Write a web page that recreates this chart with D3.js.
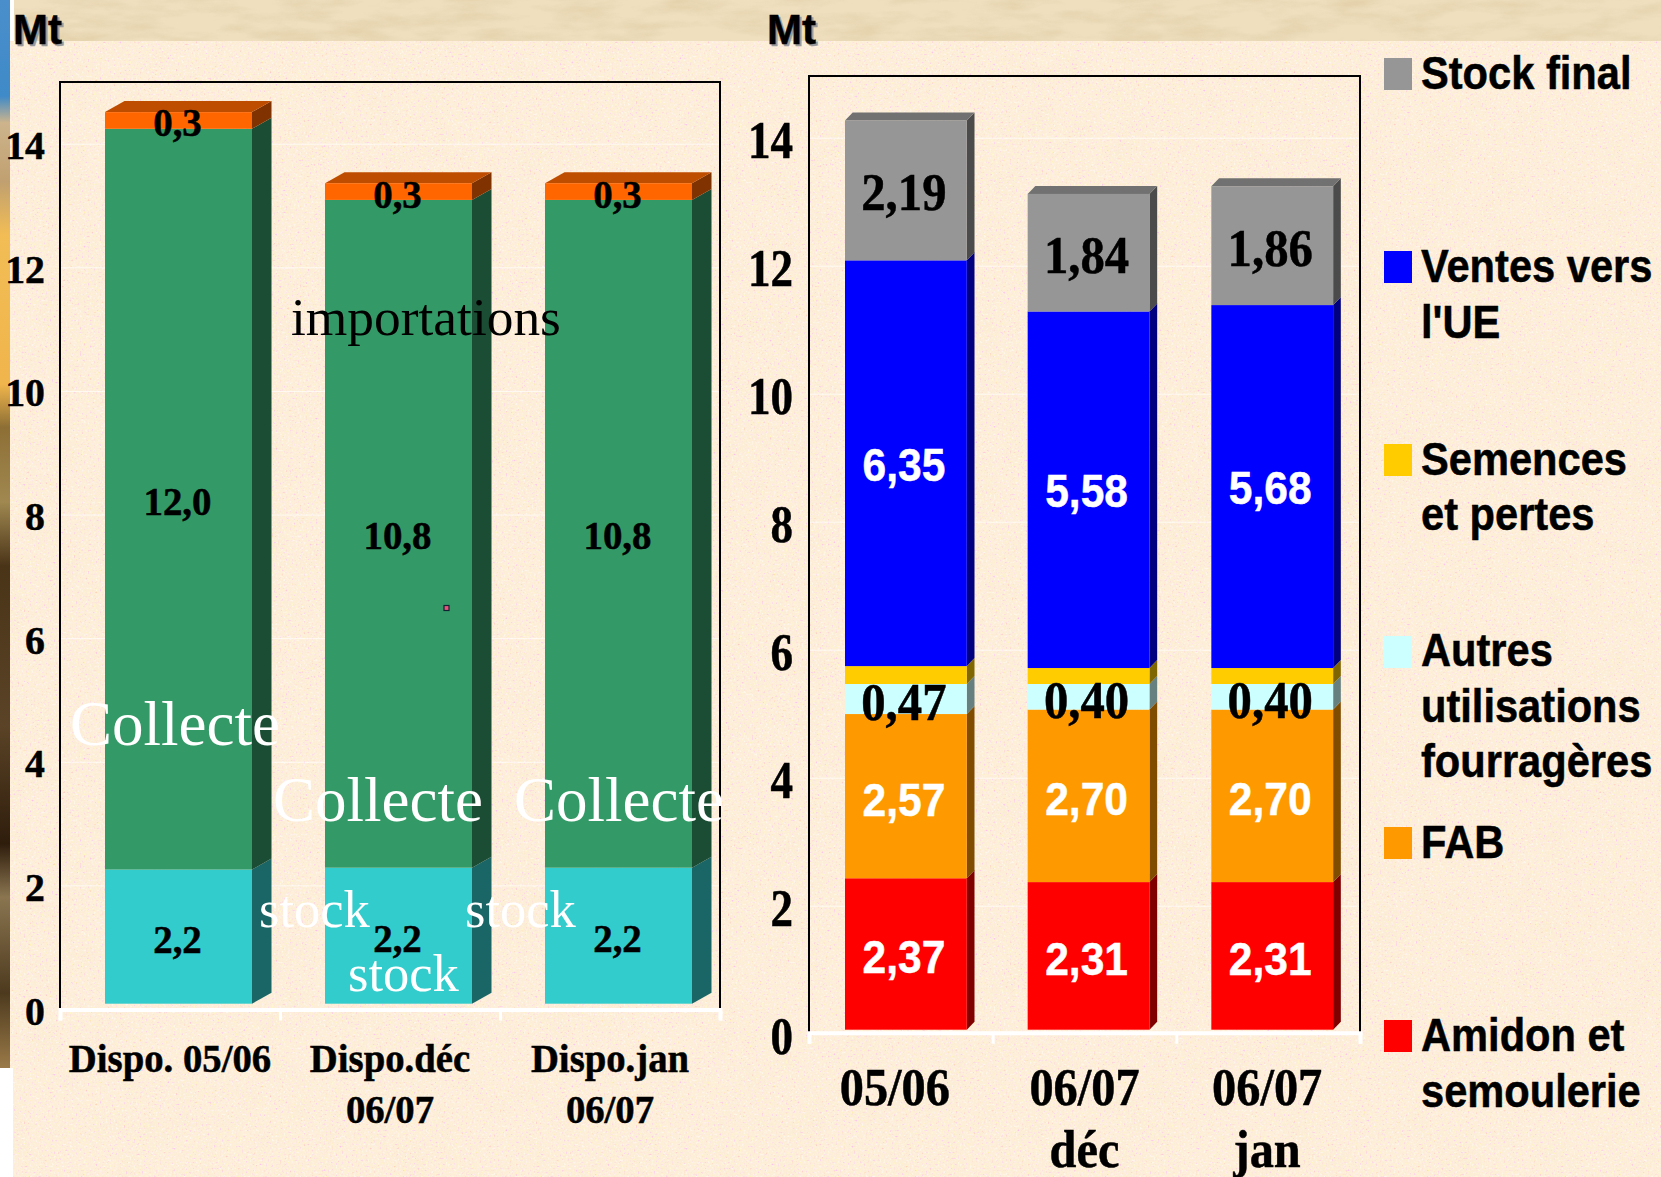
<!DOCTYPE html>
<html><head><meta charset="utf-8">
<script src="https://cdnjs.cloudflare.com/ajax/libs/d3/7.8.5/d3.min.js"></script>
<style>html,body{margin:0;padding:0;background:#fff;overflow:hidden}svg{display:block}</style>
</head><body><div id="chart"></div>
<script>
// ---- data ----
const leftCategories = [["Dispo. 05/06"],["Dispo.déc","06/07"],["Dispo.jan","06/07"]];
const leftKeys = ["stock","collecte","importations"];
const leftStock = [2.17,2.2,2.2];
const leftCollecte = [11.98,10.8,10.8];
const leftImport = [0.27,0.27,0.27];
const rightCategories = [["05/06"],["06/07","déc"],["06/07","jan"]];
const rightKeys = ["Amidon","FAB","Autres","Semences","Ventes","Stock"];
const amidon = [2.37,2.31,2.31];
const fab = [2.57,2.70,2.70];
const autres = [0.47,0.40,0.40];
const semences = [0.28,0.25,0.25];
const ventes = [6.35,5.58,5.68];
const stockFinal = [2.19,1.84,1.86];
const yTicks = [0,2,4,6,8,10,12,14];
const leftColors = ["#33cccc","#339966","#ff6600"];
const rightColors = ["#ff0000","#ff9900","#ccffff","#ffcc00","#0000ff","#969696"];
const legendLines = [
 ["Stock final"],["Ventes vers","l'UE"],["Semences","et pertes"],
 ["Autres","utilisations","fourragères"],["FAB"],["Amidon et","semoulerie"]];
const legendColors = ["#969696","#0000ff","#ffcc00","#ccffff","#ff9900","#ff0000"];

const W=1661,H=1177;
const SERIF="'Liberation Serif','Times New Roman',serif", SANS="'Liberation Sans',Arial,sans-serif";
const svg=d3.select("#chart").append("svg").attr("width",W).attr("height",H).attr("viewBox",`0 0 ${W} ${H}`);
const defs=svg.append("defs");

// ---- background texture ----
const fine=defs.append("filter").attr("id","speck").attr("x",0).attr("y",0).attr("width","100%").attr("height","100%");
fine.append("feTurbulence").attr("type","fractalNoise").attr("baseFrequency",0.5).attr("numOctaves",2).attr("seed",4);
fine.append("feColorMatrix").attr("type","matrix").attr("values","2 0 0 0 0  0 2 0 0 -0.1  0 0 2 0 -0.1  3.2 0 0 0 -1.38");
const cloud=defs.append("filter").attr("id","cloud").attr("x",0).attr("y",0).attr("width","100%").attr("height","100%");
cloud.append("feTurbulence").attr("type","fractalNoise").attr("baseFrequency",0.035).attr("numOctaves",4).attr("seed",21);
cloud.append("feColorMatrix").attr("type","matrix").attr("values","0 0 0 0 0.93  0 0 0 0 0.82  0 0 0 0 0.6  2.4 0 0 0 -1.05");
const coarse=defs.append("filter").attr("id","marble").attr("x",0).attr("y",0).attr("width","100%").attr("height","100%");
coarse.append("feTurbulence").attr("type","fractalNoise").attr("baseFrequency","0.018 0.07").attr("numOctaves",5).attr("seed",9);
coarse.append("feColorMatrix").attr("type","matrix").attr("values","0 0 0 0 0.72  0 0 0 0 0.58  0 0 0 0 0.34  2.2 0 0 0 -0.85");
const strip=defs.append("linearGradient").attr("id","strip").attr("x1",0).attr("y1",0).attr("x2",0).attr("y2",1);
[[0,"#4a8fcc"],[0.09,"#3f8ac8"],[0.115,"#cdb48c"],[0.17,"#c0a070"],[0.22,"#f2bd55"],[0.36,"#f0b54c"],[0.4,"#8d6f35"],[0.47,"#a08850"],[0.53,"#4a3418"],[0.68,"#5a4326"],[0.79,"#2f1d0c"],[0.84,"#8a7550"],[0.93,"#4d3a1e"],[1,"#9a7a48"]]
 .forEach(s=>strip.append("stop").attr("offset",s[0]).attr("stop-color",s[1]));

const bg=svg.append("g");
bg.append("rect").attr("width",W).attr("height",H).attr("fill","#fdeed8");
bg.append("rect").attr("width",W).attr("height",H).attr("filter","url(#cloud)").attr("opacity",0.25);
bg.append("rect").attr("width",W).attr("height",H).attr("filter","url(#speck)").attr("opacity",0.5);
bg.append("rect").attr("width",W).attr("height",41).attr("fill","#efdfbf");
bg.append("rect").attr("width",W).attr("height",41).attr("filter","url(#marble)").attr("opacity",0.55);
bg.append("rect").attr("x",0).attr("y",1068).attr("width",13).attr("height",H-1068).attr("fill","#fff");
bg.append("rect").attr("x",0).attr("y",0).attr("width",14).attr("height",41).attr("fill","#fff");
bg.append("rect").attr("x",0).attr("y",0).attr("width",10).attr("height",1068).attr("fill","url(#strip)");

function label(g,x,y,str,o){
  return g.append("text").attr("transform",`translate(${x},${y}) scale(${o.sx||1},1)`)
   .attr("text-anchor",o.anchor||"middle").attr("font-family",o.family).attr("font-weight",o.weight||"bold")
   .attr("font-size",o.size).attr("fill",o.fill||"#000")
   .attr("stroke",o.weight==="normal"?"none":(o.fill||"#000")).attr("stroke-width",0.5).text(str);
}
const shade=(c,k)=>{const r=d3.rgb(c);return d3.rgb(r.r*k,r.g*k,r.b*k).formatHex();};

function panel(p){
  const g=svg.append("g");
  const step=(p.right-p.left)/3;
  const xBand=d3.scaleBand().domain(d3.range(3)).range([p.left,p.right]);
  const yWall=d3.scaleLinear().domain([0,14]).range(p.wall);
  const yFront=d3.scaleLinear().domain([0,14]).range(p.front);

  // gridlines + tick labels through d3 axis
  const ax=g.append("g").attr("transform",`translate(${p.left},0)`)
    .call(d3.axisLeft(yWall).tickValues(yTicks).tickSize(-(p.right-p.left)).tickFormat(d3.format("d")));
  ax.select(".domain").remove();
  ax.selectAll(".tick line").attr("stroke","#fff").attr("stroke-width",1).attr("stroke-opacity",d=>d===0?0:0.7);
  ax.selectAll(".tick text").attr("x",null).attr("dy",null).attr("y",null)
    .attr("text-anchor","end").attr("font-family",SERIF).attr("font-weight","bold")
    .attr("font-size",p.tick.size).attr("fill","#000").attr("stroke","#000").attr("stroke-width",0.5)
    .attr("transform",`translate(${-p.tick.pad},${p.tick.dy}) scale(${p.tick.sx},1)`);

  // frame
  const frame=d3.path();
  frame.moveTo(p.left,p.axisY);frame.lineTo(p.left,p.top);frame.lineTo(p.right,p.top);frame.lineTo(p.right,p.axisY);
  g.append("path").attr("d",frame.toString()).attr("fill","none").attr("stroke","#000").attr("stroke-width",2);
  // x axis (white)
  const x0=g.append("g").attr("transform",`translate(0,${p.axisY})`)
    .call(d3.axisBottom(d3.scaleLinear().domain([0,3]).range([p.left,p.right])).tickValues([0,1,2,3]).tickSize(11).tickFormat(""));
  x0.select(".domain").attr("stroke","#fff").attr("stroke-width",4);
  x0.selectAll(".tick line").attr("stroke","#fff").attr("stroke-width",3);

  // bars
  const rows=d3.range(3).map(i=>{const o={};p.keys.forEach((k,j)=>o[k]=p.series[j][i]);return o;});
  const stacked=d3.stack().keys(p.keys)(rows);
  const bx=i=>xBand(i)+p.barOffset[i];
  const layer=g.selectAll("g.layer").data(stacked).join("g").attr("class","layer");
  layer.each(function(s,j){
    const lg=d3.select(this),col=p.colors[j];
    lg.selectAll("path.side").data(s.map((d,i)=>({d,i}))).join("path").attr("class","side").attr("fill",shade(col,0.5))
      .attr("d",({d,i})=>{const xr=bx(i)+p.barW,y0=yFront(d[0]),y1=yFront(d[1]);
        return `M${xr},${y0}L${xr+p.dx},${y0-p.dy}L${xr+p.dx},${y1-p.dy}L${xr},${y1}Z`;});
    if(j===p.keys.length-1){
      lg.selectAll("path.top").data(s.map((d,i)=>({d,i}))).join("path").attr("class","top").attr("fill",shade(col,0.75))
       .attr("d",({d,i})=>{const xl=bx(i),xr=xl+p.barW,y1=yFront(d[1]);
        return `M${xl},${y1}L${xr},${y1}L${xr+p.dx},${y1-p.dy}L${xl+p.dx},${y1-p.dy}Z`;});
    }
    lg.selectAll("rect").data(s.map((d,i)=>({d,i}))).join("rect").attr("fill",col)
      .attr("x",({i})=>bx(i)).attr("width",p.barW)
      .attr("y",({d})=>yFront(d[1])).attr("height",({d})=>yFront(d[0])-yFront(d[1]));
  });
  // value labels
  stacked.forEach((s,j)=>{
    const st=p.labelStyle[j]; if(!st) return;
    s.forEach((d,i)=>{
      const mid=(yFront(d[0])+yFront(d[1]))/2;
      label(g,bx(i)+p.barW/2-p.labelShift,mid+st.dy,p.fmt(p.series[j][i]),st);
    });
  });
  // category labels
  p.categories.forEach((lines,i)=>lines.forEach((t,k)=>{
    label(g,xBand(i)+step/2+p.catShift[i],p.catY+k*p.catLine,t,{family:SERIF,size:p.cat.size,sx:p.cat.sx});
  }));
  return g;
}
const comma=f=>v=>d3.format(f)(v).replace(".",",");

const serifL={family:SERIF,size:41,sx:0.95,dy:16.5};
const serifLMid={...serifL,dy:15.5};
const serifLTop={...serifL,dy:16};
panel({left:60,right:720,top:82,axisY:1009.5,wall:[1009,143.7],front:[1003.7,1003.7-14*61.83],
  barW:147,barOffset:[45,45,45],dx:19.5,dy:11,keys:leftKeys,series:[leftStock,leftCollecte,leftImport],colors:leftColors,
  labelStyle:[serifL,serifLMid,serifLTop],fmt:comma(".1f"),labelShift:1,
  tick:{size:41,sx:0.97,pad:15,dy:15},categories:leftCategories,catShift:[0,0,0],catY:1071.5,catLine:51,cat:{size:41,sx:0.945}});

const serifR={family:SERIF,size:53,sx:0.92,dy:20};
const serifRMid={...serifR,dy:21};
const sansR={family:SANS,size:46,sx:0.925,dy:19.5,fill:"#fff"};
const sansRBlue={...sansR,dy:17.5};
panel({left:809,right:1360,top:76,axisY:1032.7,wall:[1033.7,137.7],front:[1029.7,1029.7-14*63.9],
  barW:121.8,barOffset:[36,35,35],dx:7.7,dy:8,keys:rightKeys,series:[amidon,fab,autres,semences,ventes,stockFinal],colors:rightColors,
  labelStyle:[sansR,sansR,serifRMid,null,sansRBlue,serifR],fmt:comma(".2f"),labelShift:2,
  tick:{size:53,sx:0.85,pad:16,dy:20},categories:rightCategories,catShift:[-6,0,-1],catY:1105,catLine:62,cat:{size:52,sx:0.93}});

// ---- free-floating annotations (left chart) ----
const notes=svg.append("g");
const annFont={family:SERIF,weight:"normal",anchor:"start"};
[["Collecte",70,745,63,"#fff"],["Collecte",273,821,63,"#fff"],["Collecte",514,821,63,"#fff"],
 ["importations",291,335,53.4,"#000"],["stock",259,927,52.5,"#fff"],["stock",348,991,52.5,"#fff"],["stock",465,927,52.5,"#fff"]]
 .forEach(a=>label(notes,a[1],a[2],a[0],{...annFont,size:a[3],fill:a[4]}));
notes.append("rect").attr("x",444).attr("y",605.5).attr("width",5).attr("height",5).attr("fill","#f0507a").attr("stroke","#123").attr("stroke-width",1.2);

// ---- Mt ----
[[13,44],[767,44]].forEach(p=>{
  label(notes,p[0]+2,p[1]+2,"Mt",{family:SANS,size:42,anchor:"start",fill:"#9a9a9a"});
  label(notes,p[0],p[1],"Mt",{family:SANS,size:42,anchor:"start"});
});

// ---- legend ----
const lg=svg.append("g");
const legY=d3.scaleOrdinal().domain(d3.range(6)).range([[58,89],[251,282],[444,474.5],[636,666],[827,858],[1020,1051]]);
legendLines.forEach((lines,i)=>{
  const [sy,base]=legY(i);
  lg.append("rect").attr("x",1384).attr("y",sy).attr("width",28).attr("height",32).attr("fill",legendColors[i]);
  lines.forEach((t,k)=>label(lg,1421,base+k*55.5,t,{family:SANS,size:46,sx:0.905,anchor:"start"}));
});
</script></body></html>
